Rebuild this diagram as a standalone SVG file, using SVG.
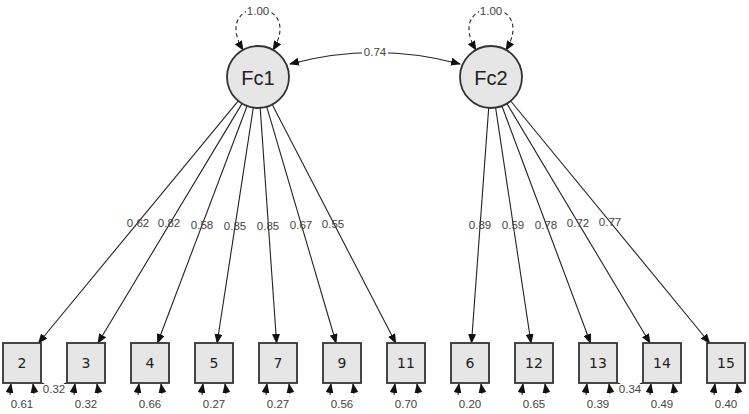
<svg xmlns="http://www.w3.org/2000/svg" width="749" height="414" viewBox="0 0 749 414">
<defs>
<marker id="ah" markerUnits="userSpaceOnUse" markerWidth="10" markerHeight="8" refX="9" refY="4" orient="auto-start-reverse">
<path d="M0,0 L10,4 L0,8 Z" fill="#111"/>
</marker>
<style>
.lat{fill:#e6e6e6;stroke:#333;stroke-width:1.8}
.man{fill:#e6e6e6;stroke:#333;stroke-width:1.8}
.lt{font-family:"Liberation Sans",Arial,sans-serif;font-size:20px;fill:#222;text-anchor:middle;dominant-baseline:central}
.mt{font-family:"DejaVu Sans","Liberation Sans",sans-serif;font-size:14px;fill:#222;text-anchor:middle;dominant-baseline:central}
.el{font-family:"Liberation Sans",Arial,sans-serif;font-size:11.5px;fill:#444;text-anchor:middle;dominant-baseline:central}
.ld{fill:none;stroke:#222;stroke-width:1.1;marker-end:url(#ah)}
.cv{fill:none;stroke:#222;stroke-width:1.1;marker-start:url(#ah);marker-end:url(#ah)}
.vr{fill:none;stroke:#222;stroke-width:1.1;stroke-dasharray:4,3;marker-start:url(#ah);marker-end:url(#ah)}
.bg{fill:#fff}
</style>
</defs>
<rect width="749" height="414" fill="#fff"/>
<g id="connectors">
<path class="ld" d="M238.3,100.9 L38.5,343"/>
<path class="ld" d="M242.0,103.6 L98.0,343"/>
<path class="ld" d="M247.05,106.0 L157.55,343"/>
<path class="ld" d="M253.3,107.6 L217.1,343"/>
<path class="ld" d="M260.2,107.9 L276.6,343"/>
<path class="ld" d="M266.7,106.7 L336.1,343"/>
<path class="ld" d="M272.2,104.5 L395.7,343"/>
<path class="ld" d="M488.7,107.9 L471.5,343"/>
<path class="ld" d="M495.6,107.7 L531.0,343"/>
<path class="ld" d="M501.9,106.0 L590.5,343"/>
<path class="ld" d="M506.9,103.6 L650.0,343"/>
<path class="ld" d="M510.7,101.0 L709.6,343"/>
<path class="cv" d="M290,64 Q375,41 460,64"/>
<path class="vr" d="M243,50 C210,-5 306,-5 273,50"/>
<path class="vr" d="M476,50 C443,-5 539,-5 506,50"/>
<path class="cv" d="M42,383 Q54,396 66,383"/>
<path class="cv" d="M618,383 Q630,396 642,383"/>
<g id="residuals">
<path class="vr" d="M11,384 C4,425 40,425 33,384"/>
<path class="vr" d="M75,384 C68,425 104,425 97,384"/>
<path class="vr" d="M139,384 C132,425 168,425 161,384"/>
<path class="vr" d="M203,384 C196,425 232,425 225,384"/>
<path class="vr" d="M267,384 C260,425 296,425 289,384"/>
<path class="vr" d="M331,384 C324,425 360,425 353,384"/>
<path class="vr" d="M395,384 C388,425 424,425 417,384"/>
<path class="vr" d="M459,384 C452,425 488,425 481,384"/>
<path class="vr" d="M523,384 C516,425 552,425 545,384"/>
<path class="vr" d="M587,384 C580,425 616,425 609,384"/>
<path class="vr" d="M651,384 C644,425 680,425 673,384"/>
<path class="vr" d="M715,384 C708,425 744,425 737,384"/>
</g>
</g>
<g id="labels">
<rect class="bg" x="246" y="5" width="24" height="12"/><text class="el" x="258" y="11">1.00</text>
<rect class="bg" x="479" y="5" width="24" height="12"/><text class="el" x="491" y="11">1.00</text>
<rect class="bg" x="362" y="46" width="26" height="12"/><text class="el" x="375" y="52">0.74</text>
<text class="el" x="138" y="223">0.62</text>
<text class="el" x="169" y="223">0.82</text>
<text class="el" x="202" y="225">0.58</text>
<text class="el" x="235" y="226">0.85</text>
<text class="el" x="268" y="226">0.85</text>
<text class="el" x="301" y="225">0.67</text>
<text class="el" x="333" y="224">0.55</text>
<text class="el" x="480" y="225">0.89</text>
<text class="el" x="513" y="225">0.59</text>
<text class="el" x="546" y="225">0.78</text>
<text class="el" x="578" y="223">0.72</text>
<text class="el" x="610" y="222">0.77</text>
<rect class="bg" x="42" y="384" width="24" height="11"/><text class="el" x="54" y="389">0.32</text>
<rect class="bg" x="618" y="384" width="24" height="11"/><text class="el" x="630" y="389">0.34</text>
<rect class="bg" x="9" y="397" width="26" height="17"/><text class="el" x="22" y="404">0.61</text>
<rect class="bg" x="73" y="397" width="26" height="17"/><text class="el" x="86" y="404">0.32</text>
<rect class="bg" x="137" y="397" width="26" height="17"/><text class="el" x="150" y="404">0.66</text>
<rect class="bg" x="201" y="397" width="26" height="17"/><text class="el" x="214" y="404">0.27</text>
<rect class="bg" x="265" y="397" width="26" height="17"/><text class="el" x="278" y="404">0.27</text>
<rect class="bg" x="329" y="397" width="26" height="17"/><text class="el" x="342" y="404">0.56</text>
<rect class="bg" x="393" y="397" width="26" height="17"/><text class="el" x="406" y="404">0.70</text>
<rect class="bg" x="457" y="397" width="26" height="17"/><text class="el" x="470" y="404">0.20</text>
<rect class="bg" x="521" y="397" width="26" height="17"/><text class="el" x="534" y="404">0.65</text>
<rect class="bg" x="585" y="397" width="26" height="17"/><text class="el" x="598" y="404">0.39</text>
<rect class="bg" x="649" y="397" width="26" height="17"/><text class="el" x="662" y="404">0.49</text>
<rect class="bg" x="713" y="397" width="26" height="17"/><text class="el" x="726" y="404">0.40</text>
</g>
<g id="Fc1"><circle class="lat" cx="258" cy="77" r="31"/><text class="lt" x="258" y="78">Fc1</text></g>
<g id="Fc2"><circle class="lat" cx="491" cy="77" r="31"/><text class="lt" x="491" y="78">Fc2</text></g>
<g id="v2"><rect class="man" x="3" y="343" width="38" height="40"/><text class="mt" x="22" y="363">2</text></g>
<g id="v3"><rect class="man" x="67" y="343" width="38" height="40"/><text class="mt" x="86" y="363">3</text></g>
<g id="v4"><rect class="man" x="131" y="343" width="38" height="40"/><text class="mt" x="150" y="363">4</text></g>
<g id="v5"><rect class="man" x="195" y="343" width="38" height="40"/><text class="mt" x="214" y="363">5</text></g>
<g id="v7"><rect class="man" x="259" y="343" width="38" height="40"/><text class="mt" x="278" y="363">7</text></g>
<g id="v9"><rect class="man" x="323" y="343" width="38" height="40"/><text class="mt" x="342" y="363">9</text></g>
<g id="v11"><rect class="man" x="387" y="343" width="38" height="40"/><text class="mt" x="406" y="363">11</text></g>
<g id="v6"><rect class="man" x="451" y="343" width="38" height="40"/><text class="mt" x="470" y="363">6</text></g>
<g id="v12"><rect class="man" x="515" y="343" width="38" height="40"/><text class="mt" x="534" y="363">12</text></g>
<g id="v13"><rect class="man" x="579" y="343" width="38" height="40"/><text class="mt" x="598" y="363">13</text></g>
<g id="v14"><rect class="man" x="643" y="343" width="38" height="40"/><text class="mt" x="662" y="363">14</text></g>
<g id="v15"><rect class="man" x="707" y="343" width="38" height="40"/><text class="mt" x="726" y="363">15</text></g>
</svg>
